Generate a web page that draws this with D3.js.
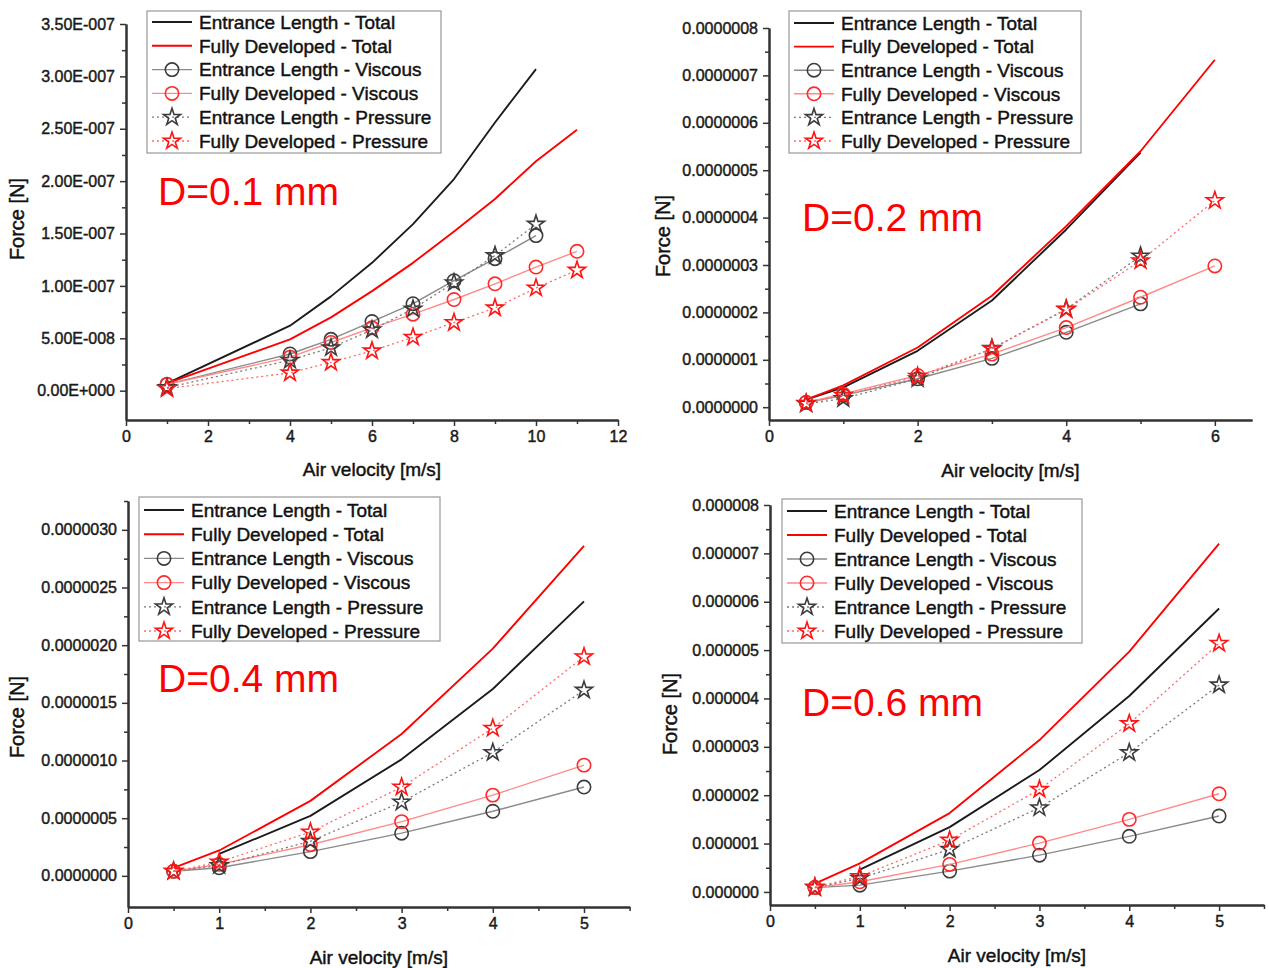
<!DOCTYPE html>
<html><head><meta charset="utf-8">
<script src="https://cdn.jsdelivr.net/npm/d3@7"></script>
<style>
body{margin:0;background:#fff}
svg{display:block}
text{font-family:"Liberation Sans",Arial,sans-serif}
.thick{stroke-width:0.45px;paint-order:stroke}
</style>
</head><body>
<svg id="c" width="1269" height="968"></svg>
<script>
// ---------- series names ----------
const seriesNames = ["Entrance Length - Total","Fully Developed - Total","Entrance Length - Viscous",
  "Fully Developed - Viscous","Entrance Length - Pressure","Fully Developed - Pressure"];
const panelTitles = ["D=0.1 mm","D=0.2 mm","D=0.4 mm","D=0.6 mm"];
const xTitle = "Air velocity [m/s]";
const yTitle = "Force [N]";

// ---------- D=0.1 mm (values in 1e-7 N) ----------
const unit01 = 1e-7;
const vel01EL = [1,4,5,6,7,8,9,10];
const vel01FD = [1,4,5,6,7,8,9,10,11];
const elTotal01 = [0.07,0.62,0.90,1.22,1.59,2.02,2.56,3.07];
const fdTotal01 = [0.07,0.49,0.70,0.95,1.22,1.52,1.83,2.19,2.49];
const elVisc01  = [0.06,0.35,0.49,0.66,0.83,1.05,1.26,1.48];
const fdVisc01  = [0.06,0.32,0.46,0.60,0.73,0.87,1.02,1.18,1.33];
const elPres01  = [0.03,0.29,0.41,0.58,0.78,1.03,1.29,1.59];
const fdPres01  = [0.02,0.17,0.27,0.38,0.51,0.65,0.79,0.98,1.15];
const xTicks01 = [0,2,4,6,8,10,12];
const yTicks01 = [0,0.5,1,1.5,2,2.5,3,3.5];
const yTickLabels01 = ["0.00E+000","5.00E-008","1.00E-007","1.50E-007","2.00E-007","2.50E-007","3.00E-007","3.50E-007"];

// ---------- D=0.2 mm (values in 1e-7 N) ----------
const unit02 = 1e-7;
const vel02EL = [0.5,1,2,3,4,5];
const vel02FD = [0.5,1,2,3,4,5,6];
const elTotal02 = [0.16,0.42,1.19,2.25,3.75,5.37];
const fdTotal02 = [0.16,0.46,1.26,2.35,3.82,5.40,7.33];
const elVisc02  = [0.10,0.25,0.60,1.03,1.58,2.18];
const fdVisc02  = [0.10,0.28,0.67,1.12,1.68,2.32,2.98];
const elPres02  = [0.07,0.18,0.60,1.24,2.07,3.19];
const fdPres02  = [0.08,0.25,0.65,1.23,2.06,3.09,4.36];
const xTicks02 = [0,2,4,6];
const yTicks02 = [0,1,2,3,4,5,6,7,8];
const yTickLabels02 = ["0.0000000","0.0000001","0.0000002","0.0000003","0.0000004","0.0000005","0.0000006","0.0000007","0.0000008"];

// ---------- D=0.4 mm (values in 1e-6 N) ----------
const unit04 = 1e-6;
const vel04EL = [1,2,3,4,5];
const vel04 = [0.5,1,2,3,4,5];
const elTotal04 = [0.19,0.52,1.01,1.62,2.38];
const fdTotal04 = [0.07,0.22,0.65,1.23,1.97,2.86];
const elVisc04  = [0.04,0.07,0.21,0.37,0.56,0.77];
const fdVisc04  = [0.04,0.10,0.27,0.47,0.70,0.96];
const elPres04  = [0.04,0.09,0.30,0.64,1.07,1.61];
const fdPres04  = [0.04,0.12,0.38,0.77,1.28,1.90];
const xTicks04 = [0,1,2,3,4,5];
const yTicks04 = [0,0.5,1,1.5,2,2.5,3];
const yTickLabels04 = ["0.0000000","0.0000005","0.0000010","0.0000015","0.0000020","0.0000025","0.0000030"];

// ---------- D=0.6 mm (values in 1e-6 N) ----------
const unit06 = 1e-6;
const vel06EL = [1,2,3,4,5];
const vel06 = [0.5,1,2,3,4,5];
const elTotal06 = [0.46,1.34,2.52,4.05,5.86];
const fdTotal06 = [0.17,0.59,1.63,3.14,4.97,7.20];
const elVisc06  = [0.09,0.14,0.43,0.76,1.15,1.57];
const fdVisc06  = [0.09,0.21,0.57,1.01,1.50,2.03];
const elPres06  = [0.09,0.28,0.88,1.74,2.88,4.28];
const fdPres06  = [0.10,0.32,1.07,2.12,3.48,5.14];
const xTicks06 = [0,1,2,3,4,5];
const yTicks06 = [0,1,2,3,4,5,6,7,8];
const yTickLabels06 = ["0.000000","0.000001","0.000002","0.000003","0.000004","0.000005","0.000006","0.000007","0.000008"];

// ---------- styles ----------
const styles = [
  {stroke:"#1c1c1c", width:1.9, dash:null, marker:null},
  {stroke:"#ff0000", width:1.9, dash:null, marker:null},
  {stroke:"#8a8a8a", width:1.4, dash:null, marker:"circle", mStroke:"#3c3c3c"},
  {stroke:"#ff8a8a", width:1.4, dash:null, marker:"circle", mStroke:"#ff2a2a"},
  {stroke:"#7a7a7a", width:1.3, dash:"2,3", marker:"star", mStroke:"#3c3c3c"},
  {stroke:"#ff6a6a", width:1.3, dash:"2,3", marker:"star", mStroke:"#ff1414"}
];

function mk(xs, ys, unit){ return xs.map((x,i)=>({x:x, y:ys[i]*unit})); }

const panels = [
  {unit:unit01, xDomain:[0,12], xRange:[126,618], yDomain:[-0.28,3.5], yRange:[420,24],
   xTicks:xTicks01, xMinorStep:1, yTicks:yTicks01, yLabels:yTickLabels01, yMinorStep:0.25,
   series:[mk(vel01EL,elTotal01,unit01),mk(vel01FD,fdTotal01,unit01),mk(vel01EL,elVisc01,unit01),
           mk(vel01FD,fdVisc01,unit01),mk(vel01EL,elPres01,unit01),mk(vel01FD,fdPres01,unit01)],
   legend:{x:147,y:11,w:294,h:142,row0:11,dy:23.8}, title:{x:158,y:205}, xt:{y:476}, yt:{x:24,y:219}},
  {unit:unit02, xDomain:[0,6.5], xRange:[769,1252], yDomain:[-0.27,8], yRange:[420,28],
   xTicks:xTicks02, xMinorStep:1, yTicks:yTicks02, yLabels:yTickLabels02, yMinorStep:0.5,
   series:[mk(vel02EL,elTotal02,unit02),mk(vel02FD,fdTotal02,unit02),mk(vel02EL,elVisc02,unit02),
           mk(vel02FD,fdVisc02,unit02),mk(vel02EL,elPres02,unit02),mk(vel02FD,fdPres02,unit02)],
   legend:{x:789,y:11,w:292,h:142,row0:12,dy:23.6}, title:{x:802,y:231}, xt:{y:477}, yt:{x:670,y:236}},
  {unit:unit04, xDomain:[0,5.5], xRange:[128,629.6], yDomain:[-0.27,3.25], yRange:[907,501],
   xTicks:xTicks04, xMinorStep:0.5, yTicks:yTicks04, yLabels:yTickLabels04, yMinorStep:0.25,
   series:[mk(vel04EL,elTotal04,unit04),mk(vel04,fdTotal04,unit04),mk(vel04,elVisc04,unit04),
           mk(vel04,fdVisc04,unit04),mk(vel04,elPres04,unit04),mk(vel04,fdPres04,unit04)],
   legend:{x:139,y:497,w:301,h:144,row0:13,dy:24.2}, title:{x:158,y:692}, xt:{y:964}, yt:{x:24,y:717}},
  {unit:unit06, xDomain:[0,5.5], xRange:[770,1264], yDomain:[-0.27,8], yRange:[905,505],
   xTicks:xTicks06, xMinorStep:0.5, yTicks:yTicks06, yLabels:yTickLabels06, yMinorStep:0.5,
   series:[mk(vel06EL,elTotal06,unit06),mk(vel06,fdTotal06,unit06),mk(vel06,elVisc06,unit06),
           mk(vel06,fdVisc06,unit06),mk(vel06,elPres06,unit06),mk(vel06,fdPres06,unit06)],
   legend:{x:782,y:499,w:300,h:144,row0:12,dy:24}, title:{x:802,y:716}, xt:{y:962}, yt:{x:677,y:714}}
];

const svg = d3.select("#c");
const circleSym = d3.symbol().type(d3.symbolCircle).size(140);
const starSym = d3.symbol().type(d3.symbolStar).size(90);

function drawMarker(g, type, x, y, color){
  g.append("path").attr("d", type==="circle"? circleSym() : starSym())
    .attr("transform",`translate(${x},${y})`)
    .attr("fill","none").attr("stroke",color).attr("stroke-width",1.6);
}

panels.forEach((p, pi)=>{
  const g = svg.append("g");
  const xs = d3.scaleLinear().domain(p.xDomain).range(p.xRange);
  const ysU = d3.scaleLinear().domain(p.yDomain).range(p.yRange);           // in tick units
  const ys = d3.scaleLinear().domain(p.yDomain.map(v=>v*p.unit)).range(p.yRange); // in N

  const yMinor = d3.range(0, p.yDomain[1]+1e-9, p.yMinorStep).filter(v=>!p.yTicks.some(t=>Math.abs(t-v)<1e-9));
  const xMinor = d3.range(0, p.xDomain[1]+1e-9, p.xMinorStep).filter(v=>!p.xTicks.some(t=>Math.abs(t-v)<1e-9));

  g.append("g").attr("transform",`translate(${p.xRange[0]},0)`)
    .call(d3.axisLeft(ysU).tickValues(p.yTicks).tickFormat((d,i)=>p.yLabels[i]).tickSize(6).tickSizeOuter(0).tickPadding(5));
  g.append("g").attr("transform",`translate(${p.xRange[0]},0)`)
    .call(d3.axisLeft(ysU).tickValues(yMinor).tickFormat("").tickSize(4).tickSizeOuter(0));
  g.append("g").attr("transform",`translate(0,${p.yRange[0]})`)
    .call(d3.axisBottom(xs).tickValues(p.xTicks).tickFormat(d3.format("d")).tickSize(6).tickSizeOuter(0).tickPadding(5));
  g.append("g").attr("transform",`translate(0,${p.yRange[0]})`)
    .call(d3.axisBottom(xs).tickValues(xMinor).tickFormat("").tickSize(4).tickSizeOuter(0));
  g.selectAll(".domain").attr("stroke","#333").attr("stroke-width",2);
  g.selectAll(".tick line").attr("stroke","#333").attr("stroke-width",1.5);
  g.selectAll(".tick text").attr("font-size",16).attr("fill","#1a1a1a").attr("stroke","#1a1a1a")
    .attr("class","thick").attr("font-family",'"Liberation Sans",Arial,sans-serif');

  // series
  const line = d3.line().x(d=>xs(d.x)).y(d=>ys(d.y));
  p.series.forEach((s, si)=>{
    const st = styles[si];
    g.append("path").datum(s).attr("d",line).attr("fill","none")
      .attr("stroke",st.stroke).attr("stroke-width",st.width)
      .attr("stroke-dasharray",st.dash).attr("stroke-linejoin","round");
    if(st.marker){
      s.forEach(d=>drawMarker(g, st.marker, xs(d.x), ys(d.y), st.mStroke));
    }
  });

  // legend
  const L = p.legend;
  g.append("rect").attr("x",L.x).attr("y",L.y).attr("width",L.w).attr("height",L.h)
    .attr("fill","#fff").attr("stroke","#a0a0a0").attr("stroke-width",1.3);
  seriesNames.forEach((name, si)=>{
    const st = styles[si];
    const yy = L.y + L.row0 + si*L.dy;
    g.append("line").attr("x1",L.x+5).attr("x2",L.x+45).attr("y1",yy).attr("y2",yy)
      .attr("stroke",st.stroke).attr("stroke-width",st.width).attr("stroke-dasharray",st.dash);
    if(st.marker) drawMarker(g, st.marker, L.x+25, yy, st.mStroke);
    g.append("text").attr("x",L.x+52).attr("y",yy).attr("dy","0.36em")
      .attr("font-size",19).attr("fill","#111").attr("stroke","#111").attr("class","thick").text(name);
  });

  // panel title
  g.append("text").attr("x",p.title.x).attr("y",p.title.y)
    .attr("font-family",'"Open Sans",sans-serif').attr("font-size",39).attr("fill","#ff0000").text(panelTitles[pi]);

  // axis titles
  g.append("text").attr("x",(p.xRange[0]+p.xRange[1])/2).attr("y",p.xt.y).attr("text-anchor","middle")
    .attr("font-size",19).attr("fill","#111").attr("stroke","#111").attr("class","thick").text(xTitle);
  g.append("text").attr("transform",`translate(${p.yt.x},${p.yt.y}) rotate(-90)`).attr("text-anchor","middle")
    .attr("font-size",20).attr("fill","#111").attr("stroke","#111").attr("class","thick").text(yTitle);
});
</script>
</body></html>
